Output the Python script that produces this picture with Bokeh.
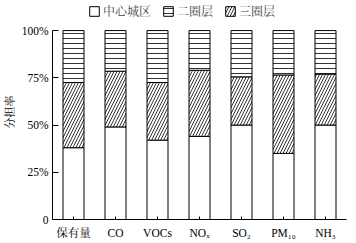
from bokeh.plotting import figure
from bokeh.models import ColumnDataSource, FactorRange, Legend, LegendItem, FixedTicker
from bokeh.embed import file_html
from bokeh.resources import INLINE

categories = ["保有量", "CO", "VOCs", "NOₓ", "SO₂", "PM₁₀", "NH₃"]
center = [38, 49, 42, 44, 50, 35, 50]        # 中心城区
ring3 = [34.5, 29.5, 30.5, 35, 25.5, 41.5, 27]  # 三圈层
ring2 = [27.5, 21.5, 27.5, 21, 24.5, 23.5, 23]  # 二圈层
y_ticks = [0, 25, 50, 75, 100]
y_tick_labels = ["0", "25%", "50%", "75%", "100%"]

FONT = "'Liberation Serif', 'Noto Serif CJK SC', 'Noto Sans CJK SC', serif"

source = ColumnDataSource(dict(cat=categories, center=center, ring3=ring3, ring2=ring2))

p = figure(x_range=FactorRange(*categories, range_padding=0), y_range=(0, 113.8),
           width=356, height=243, output_backend="svg", toolbar_location=None,
           min_border_left=45, min_border_right=10, min_border_top=4, min_border_bottom=24)

rs = p.vbar_stack(["center", "ring3", "ring2"], x="cat", width=0.5, source=source,
                  fill_color="white", line_color="black", line_width=1,
                  hatch_pattern=[" ", "/", "-"], hatch_color="black",
                  hatch_scale=[6, 6, 5], hatch_weight=0.8)

legend = Legend(items=[LegendItem(label="中心城区", renderers=[rs[0]]),
                       LegendItem(label="二圈层", renderers=[rs[2]]),
                       LegendItem(label="三圈层", renderers=[rs[1]])],
                orientation="horizontal", location=(36, 199),
                border_line_color=None, background_fill_alpha=0,
                label_text_font=FONT, label_text_font_size="12px",
                glyph_width=12, glyph_height=12, spacing=11, padding=0, margin=0,
                label_standoff=3, label_height=12)
p.add_layout(legend, "center")

p.xgrid.visible = False
p.ygrid.visible = False
p.outline_line_color = None

p.yaxis.bounds = (0, 100)
p.yaxis.ticker = FixedTicker(ticks=y_ticks)
p.yaxis.major_label_overrides = {t: l for t, l in zip(y_ticks, y_tick_labels)}
p.yaxis.major_tick_in = 6
p.yaxis.major_tick_out = 0
p.yaxis.minor_tick_line_color = None
p.yaxis.axis_label = "分担率"
p.yaxis.axis_label_text_font = FONT
p.yaxis.axis_label_text_font_style = "normal"
p.yaxis.axis_label_text_font_size = "11px"
p.yaxis.axis_label_standoff = 3
p.yaxis.major_label_text_font = FONT
p.yaxis.major_label_text_font_size = "11.5px"
p.yaxis.major_label_standoff = 4

p.xaxis.major_tick_in = 3
p.xaxis.major_tick_out = 0
p.xaxis.major_label_text_font = FONT
p.xaxis.major_label_text_font_size = "11.5px"
p.xaxis.major_label_standoff = 7

for ax in (p.xaxis, p.yaxis):
    ax.axis_line_color = "black"
    ax.major_tick_line_color = "black"
    ax.major_label_text_color = "black"
    ax.axis_label_text_color = "black"

open("out.html", "w").write(file_html(p, INLINE))
